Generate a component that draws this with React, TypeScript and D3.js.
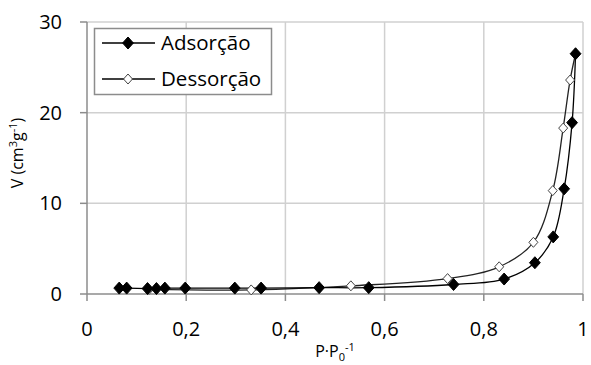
import React from 'react';
import * as d3 from 'd3';

const width = 591;
const height = 365;

// Adsorção (filled diamonds)
const adsX = [0.065, 0.08, 0.122, 0.14, 0.157, 0.198, 0.298, 0.351, 0.468, 0.568, 0.739, 0.841, 0.903, 0.94, 0.962, 0.978, 0.985];
const adsY = [0.65, 0.65, 0.6, 0.6, 0.65, 0.65, 0.65, 0.65, 0.7, 0.7, 1.05, 1.65, 3.45, 6.3, 11.6, 18.9, 26.5];

// Dessorção (open diamonds)
const desX = [0.985, 0.974, 0.96, 0.939, 0.9, 0.831, 0.727, 0.532, 0.331, 0.125];
const desY = [26.5, 23.6, 18.3, 11.4, 5.7, 3.0, 1.7, 0.9, 0.45, 0.5];

const xTicks = [0, 0.2, 0.4, 0.6, 0.8, 1];
const yTicks = [0, 10, 20, 30];
const seriesNames = ['Adsorção', 'Dessorção'];

const font = "'Open Sans', 'DejaVu Sans', sans-serif";

const Diamond = ({ x, y, filled, r }: { x: number; y: number; filled: boolean; r: number }) => (
  <path
    d={`M${x},${y - r}L${x + r * 0.9},${y}L${x},${y + r}L${x - r * 0.9},${y}Z`}
    fill={filled ? '#000' : '#fff'}
    stroke={filled ? '#000' : '#444'}
    strokeWidth={1}
  />
);

export default function App() {
  const xScale = d3.scaleLinear().domain([0, 1]).range([87, 583]);
  const yScale = d3.scaleLinear().domain([0, 30]).range([294, 22]);

  const line = d3
    .line<[number, number]>()
    .x(d => xScale(d[0]))
    .y(d => yScale(d[1]))
    .curve(d3.curveCatmullRom.alpha(0.5));

  const ads: [number, number][] = adsX.map((x, i) => [x, adsY[i]]);
  const des: [number, number][] = desX.map((x, i) => [x, desY[i]]);

  return (
    <svg width={width} height={height} style={{ position: 'absolute', left: 0, top: 0, background: '#fff' }} fontFamily={font}>
      {/* grid */}
      {xTicks.slice(1).map(t => (
        <line key={'gx' + t} x1={xScale(t)} x2={xScale(t)} y1={yScale(30)} y2={yScale(0)} stroke="#d0d0d0" strokeWidth={1.5} />
      ))}
      {yTicks.slice(1).map(t => (
        <line key={'gy' + t} x1={xScale(0)} x2={xScale(1)} y1={yScale(t)} y2={yScale(t)} stroke="#d0d0d0" strokeWidth={1.5} />
      ))}

      {/* axes */}
      <line x1={xScale(0)} x2={xScale(0)} y1={yScale(30)} y2={yScale(0)} stroke="#8c8c8c" strokeWidth={1.5} />
      <line x1={xScale(0)} x2={xScale(1)} y1={yScale(0)} y2={yScale(0)} stroke="#8c8c8c" strokeWidth={1.5} />
      {yTicks.map(t => (
        <g key={'ty' + t}>
          <line x1={xScale(0) - 7} x2={xScale(0)} y1={yScale(t)} y2={yScale(t)} stroke="#8c8c8c" strokeWidth={1.5} />
          <text x={62} y={yScale(t)} dy="0.35em" textAnchor="end" fontSize={20} fill="#000">{t}</text>
        </g>
      ))}
      {xTicks.map(t => (
        <g key={'tx' + t}>
          <line x1={xScale(t)} x2={xScale(t)} y1={yScale(0)} y2={yScale(0) + 7} stroke="#8c8c8c" strokeWidth={1.5} />
          <text x={xScale(t)} y={336} textAnchor="middle" fontSize={20} fill="#000">
            {String(t).replace('.', ',')}
          </text>
        </g>
      ))}

      {/* series lines */}
      <path d={line(des) || ''} fill="none" stroke="#222" strokeWidth={1.3} />
      <path d={line(ads) || ''} fill="none" stroke="#000" strokeWidth={1.3} />

      {des.map((d, i) => (
        <Diamond key={'d' + i} x={xScale(d[0])} y={yScale(d[1])} filled={false} r={5} />
      ))}
      {ads.map((d, i) => (
        <Diamond key={'a' + i} x={xScale(d[0])} y={yScale(d[1])} filled={true} r={6} />
      ))}

      {/* legend */}
      <rect x={94.5} y={28.5} width={177} height={66} fill="#fff" stroke="#8c8c8c" strokeWidth={1.5} />
      {seriesNames.map((name, i) => {
        const cy = 43 + i * 36;
        return (
          <g key={name}>
            <line x1={102} x2={155} y1={cy} y2={cy} stroke="#000" strokeWidth={1.3} />
            <Diamond x={128} y={cy} filled={i === 0} r={i === 0 ? 6 : 5} />
            <text x={161} y={cy} dy="0.35em" fontSize={20.5} fill="#000">{name}</text>
          </g>
        );
      })}

      {/* axis titles */}
      <text x={335} y={357} textAnchor="middle" fontSize={16} fill="#000">
        P·P<tspan fontSize={11} dy={4}>0</tspan><tspan fontSize={11} dy={-10}>-1</tspan>
      </text>
      <text transform="translate(23,153) rotate(-90)" textAnchor="middle" fontSize={16} fill="#000">
        V (cm<tspan fontSize={11} dy={-6}>3</tspan><tspan dy={6}>g</tspan><tspan fontSize={11} dy={-6}>-1</tspan><tspan dy={6}>)</tspan>
      </text>
    </svg>
  );
}
